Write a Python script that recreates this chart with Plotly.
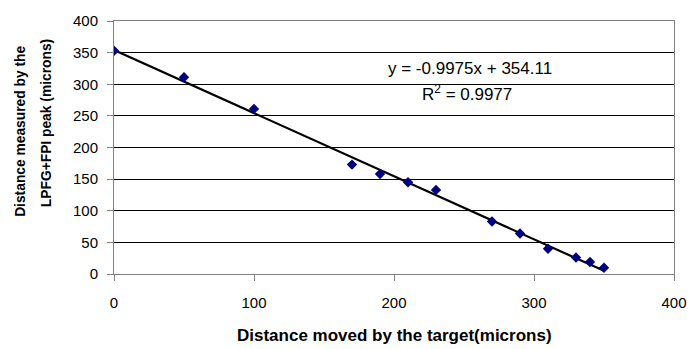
import plotly.graph_objects as go

x_moved = [0, 50, 100, 170, 190, 210, 230, 270, 290, 310, 330, 340, 350]
y_measured = [353, 311, 261, 173, 158, 145, 133, 83, 64, 40, 26, 19, 10]
slope = -0.9975
intercept = 354.11
r2 = 0.9977
x_ticks = [0, 100, 200, 300, 400]
y_ticks = [0, 50, 100, 150, 200, 250, 300, 350, 400]
x_title = "Distance moved by the target(microns)"
y_title_lines = ["Distance measured by the", "LPFG+FPI peak (microns)"]

fit_x = [min(x_moved), max(x_moved)]
fit_y = [slope * v + intercept for v in fit_x]

FONT = "Liberation Sans, Arial"

fig = go.Figure()
fig.add_trace(go.Scatter(x=fit_x, y=fit_y, mode="lines",
                         line=dict(color="black", width=2.2), hoverinfo="skip"))
fig.add_trace(go.Scatter(x=x_moved, y=y_measured, mode="markers",
                         marker=dict(symbol="diamond", size=8, color="#000080",
                                     line=dict(width=0))))

fig.add_annotation(x=0.635, y=0.8125, xref="paper", yref="paper",
                   text=f"y = {slope}x + {intercept}", showarrow=False,
                   xanchor="center", yanchor="middle",
                   font=dict(family=FONT, size=17, color="black"))
fig.add_annotation(x=0.631, y=0.715, xref="paper", yref="paper",
                   text=f"R<sup>2</sup> = {r2}", showarrow=False,
                   xanchor="center", yanchor="middle",
                   font=dict(family=FONT, size=17, color="black"))

# axis titles
fig.add_annotation(x=0.5, y=-0.242, xref="paper", yref="paper",
                   text=f"<b>{x_title}</b>", showarrow=False,
                   xanchor="center", yanchor="middle",
                   font=dict(family=FONT, size=17, color="black"))
fig.add_annotation(x=(20 - 114) / 567, y=0.5625, xref="paper", yref="paper",
                   text=f"<b>{y_title_lines[0]}</b>", showarrow=False, textangle=-90,
                   xanchor="center", yanchor="middle",
                   font=dict(family=FONT, size=13.8, color="black"))
fig.add_annotation(x=(45 - 114) / 567, y=0.5957, xref="paper", yref="paper",
                   text=f"<b>{y_title_lines[1]}</b>", showarrow=False, textangle=-90,
                   xanchor="center", yanchor="middle",
                   font=dict(family=FONT, size=13.8, color="black"))

fig.update_layout(
    width=699, height=349,
    margin=dict(l=114, r=18, t=18, b=75),
    plot_bgcolor="white", paper_bgcolor="white",
    showlegend=False,
    font=dict(family=FONT, size=15, color="black"),
    xaxis=dict(range=[0, 400], tickvals=x_ticks, showgrid=False, zeroline=False,
               showline=True, linecolor="#808080", linewidth=1, mirror=True,
               ticks="outside", ticklen=6, tickcolor="#808080",
               ticklabelstandoff=9, tickfont=dict(size=15)),
    yaxis=dict(range=[0, 400], tickvals=y_ticks, showgrid=True, gridcolor="black",
               gridwidth=1, zeroline=False,
               showline=True, linecolor="#808080", linewidth=1, mirror=True,
               ticks="outside", ticklen=6, tickcolor="#808080",
               ticklabelstandoff=6, tickfont=dict(size=15)),
)

fig.write_html("out.html")
